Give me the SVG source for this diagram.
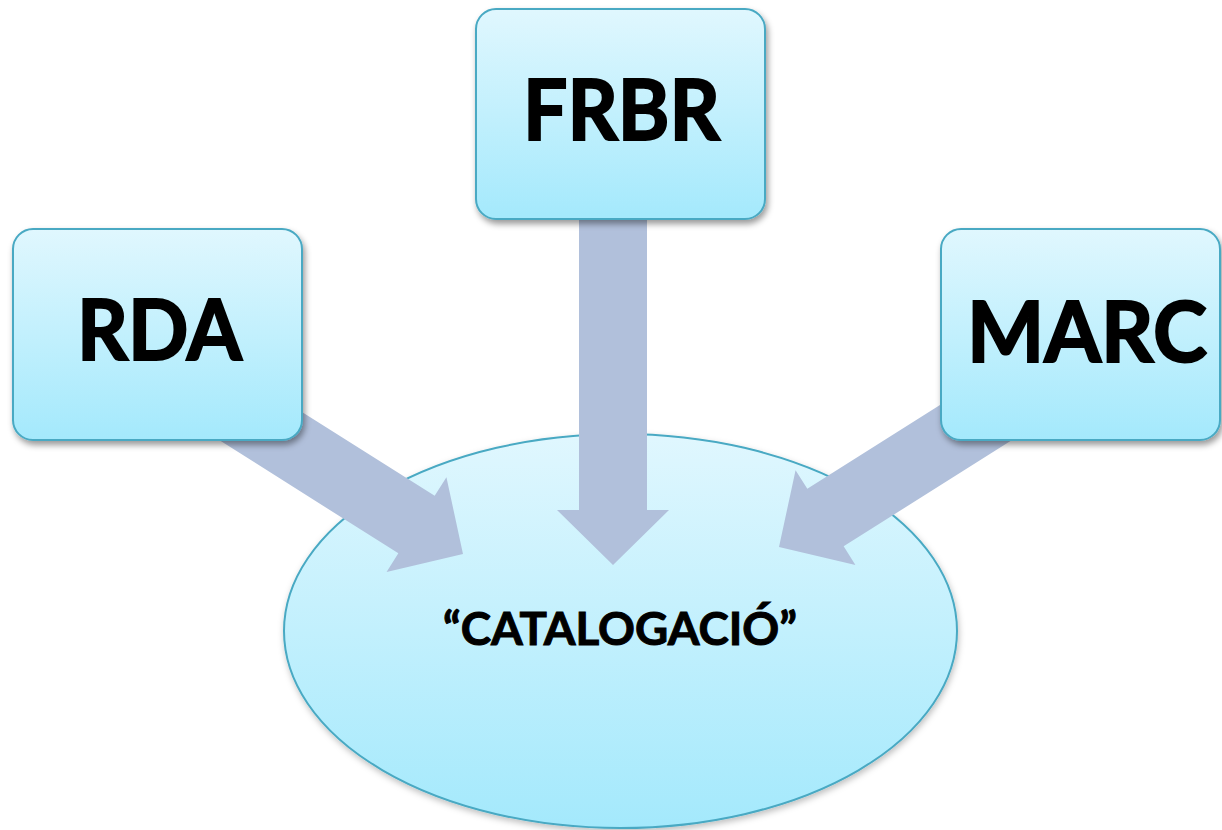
<svg xmlns="http://www.w3.org/2000/svg" width="1222" height="830" viewBox="0 0 1222 830">
  <defs>
    <linearGradient id="fillBlue" x1="0" y1="0" x2="0" y2="1">
      <stop offset="0" stop-color="#E0F7FE"/>
      <stop offset="1" stop-color="#A4E9FC"/>
    </linearGradient>
    <filter id="shadow" x="-10%" y="-10%" width="125%" height="130%">
      <feDropShadow dx="2" dy="4" stdDeviation="3" flood-color="#000" flood-opacity="0.4"/>
    </filter>
    <filter id="softShadow" x="-10%" y="-10%" width="125%" height="130%">
      <feDropShadow dx="1" dy="3" stdDeviation="3" flood-color="#000" flood-opacity="0.25"/>
    </filter>
    <!-- block arrow pointing along +x, tip at the origin -->
    <polygon id="blockArrow" points="-350,-34 -55,-34 -55,-56 0,0 -55,56 -55,34 -350,34"/>
  </defs>
  <style>
    .box { fill: url(#fillBlue); stroke: #48A9C3; stroke-width: 2; filter: url(#shadow); }
    .hub { fill: url(#fillBlue); stroke: #48A9C3; stroke-width: 2; filter: url(#softShadow); }
    .arrow { fill: #B1C0DB; }
    .big { font-family: Lato, "Liberation Sans", sans-serif; font-weight: bold; font-size: 84px; fill: #000; stroke: #000; stroke-width: 2; text-anchor: middle; }
    .mid { font-family: Lato, "Liberation Sans", sans-serif; font-weight: bold; font-size: 46px; fill: #000; stroke: #000; stroke-width: 1; text-anchor: middle; }
  </style>

  <g id="catalogacio">
    <ellipse class="hub" cx="620.5" cy="631" rx="336.5" ry="197"/>
    <text class="mid" x="620" y="645" textLength="354" lengthAdjust="spacingAndGlyphs">“CATALOGACIÓ”</text>
  </g>

  <g id="connectors">
    <use href="#blockArrow" class="arrow" transform="translate(613,565) rotate(90)"/>
    <use href="#blockArrow" class="arrow" transform="translate(463,554) rotate(32.3)"/>
    <use href="#blockArrow" class="arrow" transform="translate(779,547) rotate(147.7)"/>
  </g>

  <g id="frbr">
    <rect class="box" x="476" y="9" width="289" height="210" rx="20"/>
    <text class="big" x="621.5" y="140" textLength="197" lengthAdjust="spacingAndGlyphs">FRBR</text>
  </g>

  <g id="rda">
    <rect class="box" x="13" y="229" width="289" height="211" rx="20"/>
    <text class="big" x="159.5" y="360" textLength="165" lengthAdjust="spacingAndGlyphs">RDA</text>
  </g>

  <g id="marc">
    <rect class="box" x="941" y="229" width="279" height="211" rx="20"/>
    <text class="big" x="1087" y="362" textLength="240" lengthAdjust="spacingAndGlyphs">MARC</text>
  </g>
</svg>
